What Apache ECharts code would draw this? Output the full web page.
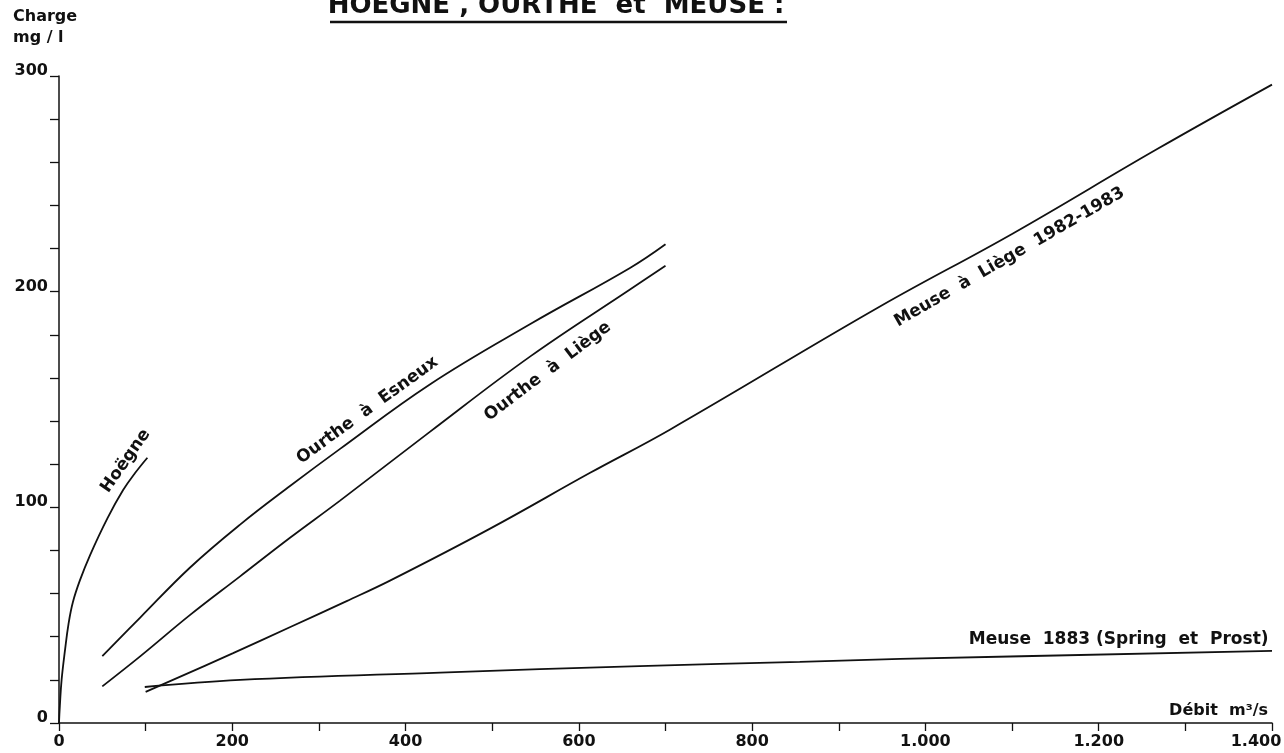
<!DOCTYPE html>
<html><head><meta charset="utf-8">
<script src="https://cdn.jsdelivr.net/npm/echarts@6/dist/echarts.min.js"></script>
<style>html,body{margin:0;padding:0;background:#fff}#c{width:1284px;height:753px}</style>
</head><body><div id="c"></div>
<script>
// ---- data (débit m3/s -> charge mg/l) ----
const hoegneQ = [0, 1, 3, 7, 11, 16, 24, 36, 56, 74, 88, 102];
const hoegneC = [0, 8, 20, 34, 46, 56, 66, 78, 95, 108, 116, 123];
const esneuxQ = [50, 94, 151, 209, 267, 324, 428, 544, 659, 700];
const esneuxC = [31, 49, 72, 92, 110, 127, 157, 185, 211, 222];
const ourtheLiegeQ = [50, 94, 151, 209, 267, 324, 428, 544, 659, 700];
const ourtheLiegeC = [17, 31, 50, 68, 86, 103, 135, 170, 201, 212];
const meuse8283Q = [100, 201, 267, 332, 382, 497, 613, 705, 947, 1101, 1267, 1400];
const meuse8283C = [14.4, 32.4, 44.5, 56.5, 66, 90, 116, 136, 193, 227, 266, 296];
const meuse1883Q = [99, 209, 440, 670, 855, 971, 1400];
const meuse1883C = [16.7, 20, 23.4, 26.4, 28.3, 29.7, 33.4];

const xTickValues = [0, 200, 400, 600, 800, 1000, 1200, 1400];
const xTickLabels = ['0', '200', '400', '600', '800', '1.000', '1.200', '1.400'];
const yTickValues = [0, 100, 200, 300];
const yTickLabels = ['0', '100', '200', '300'];

const curveLabels = ['Hoëgne', 'Ourthe  à  Esneux', 'Ourthe  à  Liège', 'Meuse  à  Liège  1982-1983', 'Meuse  1883 (Spring  et  Prost)'];
const labelQ = [77, 356, 564, 1097, 1223];
const labelC = [121.5, 145, 163, 216, 38.5];
const labelAngle = [55, 36, 37, 30, 0];

// ---- chart ----
const F = '"DejaVu Sans", sans-serif';
const INK = '#111';
const chart = echarts.init(document.getElementById('c'), null, {renderer: 'canvas'});
const pairs = (q, c) => q.map((v, i) => [v, c[i]]);
const mkLine = (name, q, c) => ({
  type: 'line', name, data: pairs(q, c), symbol: 'none', showSymbol: false,
  smooth: 0.4, silent: true,
  lineStyle: {color: INK, width: 1.8}
});

chart.setOption({
  animation: false,
  backgroundColor: '#fff',
  grid: {left: 59, right: 12, top: 76, bottom: 30, containLabel: false, outerBoundsMode: 'none'},
  xAxis: {
    type: 'value', min: 0, max: 1400, interval: 100,
    axisLine: {show: true, onZero: false, lineStyle: {color: INK, width: 1.5}},
    axisTick: {show: true, length: 8, lineStyle: {color: INK, width: 1.3}},
    splitLine: {show: false},
    axisLabel: {
      margin: 11, color: INK, fontFamily: F, fontWeight: 'bold', fontSize: 16,
      formatter: v => {
        const i = xTickValues.indexOf(v);
        if (i < 0) return '';
        if (v === 1400) return '{r|' + xTickLabels[i] + '}';
        return xTickLabels[i];
      },
      rich: {r: {fontFamily: F, fontWeight: 'bold', fontSize: 16, color: INK, padding: [0, 32, 0, 0]}}
    }
  },
  yAxis: {
    type: 'value', min: 0, max: 300, interval: 20,
    axisLine: {show: true, onZero: false, lineStyle: {color: INK, width: 1.5}},
    axisTick: {show: true, length: 9, lineStyle: {color: INK, width: 1.3}},
    splitLine: {show: false},
    axisLabel: {
      margin: 11, color: INK, fontFamily: F, fontWeight: 'bold', fontSize: 16,
      verticalAlign: 'bottom', lineHeight: 10,
      formatter: v => {
        const i = yTickValues.indexOf(v);
        return i < 0 ? '' : yTickLabels[i];
      }
    }
  },
  series: [
    mkLine('Hoëgne', hoegneQ, hoegneC),
    mkLine('Ourthe à Esneux', esneuxQ, esneuxC),
    mkLine('Ourthe à Liège', ourtheLiegeQ, ourtheLiegeC),
    mkLine('Meuse à Liège 1982-1983', meuse8283Q, meuse8283C),
    mkLine('Meuse 1883 (Spring et Prost)', meuse1883Q, meuse1883C),
    {
      type: 'scatter', symbolSize: 0, silent: true, itemStyle: {opacity: 1},
      data: labelQ.map((q, i) => ({
        value: [q, labelC[i]],
        label: {formatter: curveLabels[i], rotate: labelAngle[i]}
      })),
      label: {show: true, position: 'inside', color: INK, opacity: 1, fontFamily: F, fontWeight: 'bold', fontSize: 17}
    }
  ],
  graphic: [
    {type: 'text', x: 556, y: 19, silent: true,
      style: {text: 'HOËGNE , OURTHE  et  MEUSE :', font: 'bold 26px "DejaVu Sans"', fill: INK, textAlign: 'center', textVerticalAlign: 'bottom'}},
    {type: 'line', silent: true, shape: {x1: 330, y1: 22, x2: 787, y2: 22}, style: {stroke: INK, lineWidth: 2.5}},
    {type: 'text', x: 13, y: 9, silent: true,
      style: {text: 'Charge', font: 'bold 16px "DejaVu Sans"', fill: INK, textAlign: 'left', textVerticalAlign: 'top'}},
    {type: 'text', x: 13, y: 30, silent: true,
      style: {text: 'mg / l', font: 'bold 16px "DejaVu Sans"', fill: INK, textAlign: 'left', textVerticalAlign: 'top'}},
    {type: 'text', x: 1268, y: 719, silent: true,
      style: {text: 'Débit  m³/s', font: 'bold 16px "DejaVu Sans"', fill: INK, textAlign: 'right', textVerticalAlign: 'bottom'}}
  ]
});
</script>
</body></html>
